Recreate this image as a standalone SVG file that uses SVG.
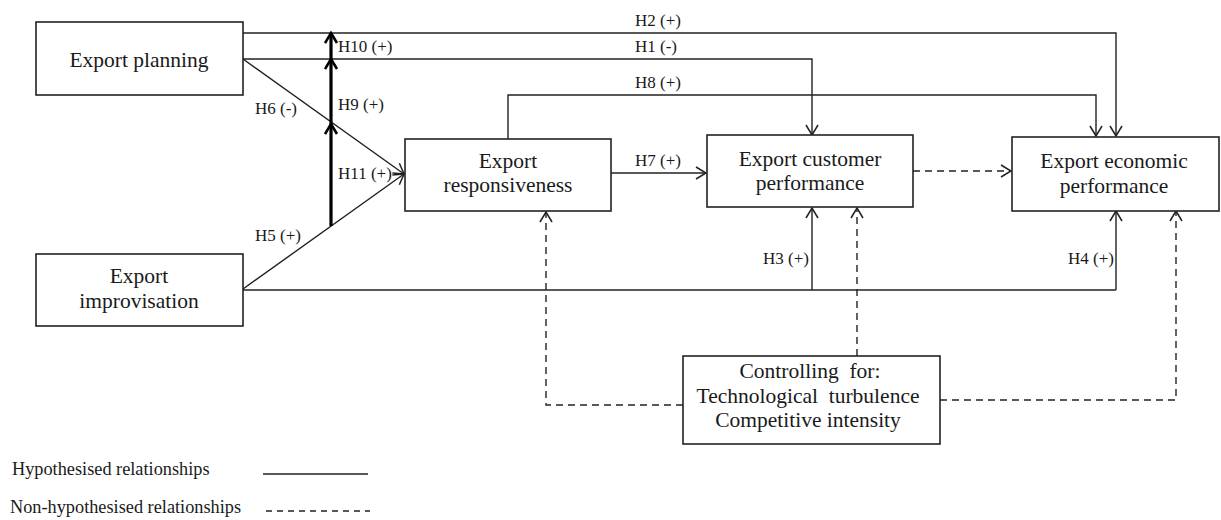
<svg xmlns="http://www.w3.org/2000/svg" width="1221" height="520" viewBox="0 0 1221 520">
  <style>
    .box { fill: #ffffff; stroke: #222222; stroke-width: 1.6; }
    .label { font-family: "Liberation Serif", "Times New Roman", serif; fill: #1a1a1a; }
    .node-text { font-size: 21.5px; text-anchor: middle; }
    .hyp { font-size: 17px; }
    .legend { font-size: 18.3px; }
    .solid { fill: none; stroke: #222222; stroke-width: 1.4; }
    .dashed { fill: none; stroke: #222222; stroke-width: 1.4; stroke-dasharray: 7 5; }
    .thick { fill: none; stroke: #000000; stroke-width: 3.2; }
  </style>
  <defs>
    <marker id="arrow" markerUnits="userSpaceOnUse" markerWidth="16" markerHeight="16" refX="11" refY="7" orient="auto">
      <path d="M1,1 L11,7 L1,13" fill="none" stroke="#222222" stroke-width="1.5"/>
    </marker>
    <marker id="arrow-bold" markerUnits="userSpaceOnUse" markerWidth="16" markerHeight="16" refX="11" refY="7" orient="auto">
      <path d="M1,1 L11,7 L1,13" fill="none" stroke="#000000" stroke-width="2.6"/>
    </marker>
  </defs>

  <rect width="1221" height="520" fill="#ffffff"/>

  <!-- connectors -->
  <g id="connectors">
    <!-- H2: planning to economic performance -->
    <path class="solid" d="M243,33 H1116 V136" marker-end="url(#arrow)"/>
    <!-- H1: planning to customer performance -->
    <path class="solid" d="M243,59 H812 V135" marker-end="url(#arrow)"/>
    <!-- H8: responsiveness to economic performance -->
    <path class="solid" d="M508,139 V95 H1096 V136" marker-end="url(#arrow)"/>
    <!-- H6: planning to responsiveness -->
    <path class="solid" d="M243,59 L404,174" marker-end="url(#arrow)"/>
    <!-- H5: improvisation to responsiveness -->
    <path class="solid" d="M243,289 L404,174" marker-end="url(#arrow)"/>
    <!-- H7: responsiveness to customer performance -->
    <path class="solid" d="M611,173 H706" marker-end="url(#arrow)"/>
    <!-- H3 / H4: improvisation to both performance outcomes -->
    <path class="solid" d="M243,290 H1116"/>
    <path class="solid" d="M812,290 V208" marker-end="url(#arrow)"/>
    <path class="solid" d="M1116,290 V211" marker-end="url(#arrow)"/>
    <!-- interaction terms H9, H10, H11 -->
    <path class="thick" d="M331,226 V124" marker-end="url(#arrow-bold)"/>
    <path class="thick" d="M331,124 V59" marker-end="url(#arrow-bold)"/>
    <path class="thick" d="M331,59 V33" marker-end="url(#arrow-bold)"/>
    <!-- non-hypothesised paths -->
    <path class="dashed" d="M913,171 H1011" marker-end="url(#arrow)"/>
    <path class="dashed" d="M683,405 H546 V212" marker-end="url(#arrow)"/>
    <path class="dashed" d="M857,356 V208" marker-end="url(#arrow)"/>
    <path class="dashed" d="M940,400 H1176 V211" marker-end="url(#arrow)"/>
  </g>

  <!-- path labels -->
  <g id="path-labels" class="label hyp">
    <text x="635" y="26">H2 (+)</text>
    <text x="635" y="52">H1 (-)</text>
    <text x="635" y="88">H8 (+)</text>
    <text x="635" y="166">H7 (+)</text>
    <text x="338" y="52">H10 (+)</text>
    <text x="338" y="110">H9 (+)</text>
    <text x="338" y="179">H11 (+)</text>
    <text x="255" y="114">H6 (-)</text>
    <text x="255" y="241">H5 (+)</text>
    <text x="763" y="264">H3 (+)</text>
    <text x="1068" y="264">H4 (+)</text>
  </g>

  <g id="export-planning">
    <rect class="box" x="36" y="22" width="207" height="73"/>
    <text class="label node-text" x="139" y="67">Export planning</text>
  </g>

  <g id="export-improvisation">
    <rect class="box" x="36" y="254" width="207" height="72"/>
    <text class="label node-text" x="139" y="283">Export</text>
    <text class="label node-text" x="139" y="308">improvisation</text>
  </g>

  <g id="export-responsiveness">
    <rect class="box" x="405" y="139" width="206" height="72"/>
    <text class="label node-text" x="508" y="168">Export</text>
    <text class="label node-text" x="508" y="192">responsiveness</text>
  </g>

  <g id="export-customer-performance">
    <rect class="box" x="707" y="135" width="206" height="72"/>
    <text class="label node-text" x="810" y="166">Export customer</text>
    <text class="label node-text" x="810" y="190">performance</text>
  </g>

  <g id="export-economic-performance">
    <rect class="box" x="1012" y="137" width="207" height="74"/>
    <text class="label node-text" x="1114" y="168">Export economic</text>
    <text class="label node-text" x="1114" y="193">performance</text>
  </g>

  <g id="controls">
    <rect class="box" x="683" y="356" width="257" height="88"/>
    <text class="label node-text" x="810" y="378" xml:space="preserve">Controlling  for:</text>
    <text class="label node-text" x="808" y="403" xml:space="preserve">Technological  turbulence</text>
    <text class="label node-text" x="808" y="427">Competitive intensity</text>
  </g>

  <g id="legend">
    <text class="label legend" x="12" y="475">Hypothesised relationships</text>
    <line class="solid" x1="263" y1="474" x2="368" y2="474"/>
    <text class="label legend" x="10" y="513">Non-hypothesised relationships</text>
    <line class="dashed" x1="266" y1="511" x2="370" y2="511" style="stroke-dasharray:6 5"/>
  </g>
</svg>
